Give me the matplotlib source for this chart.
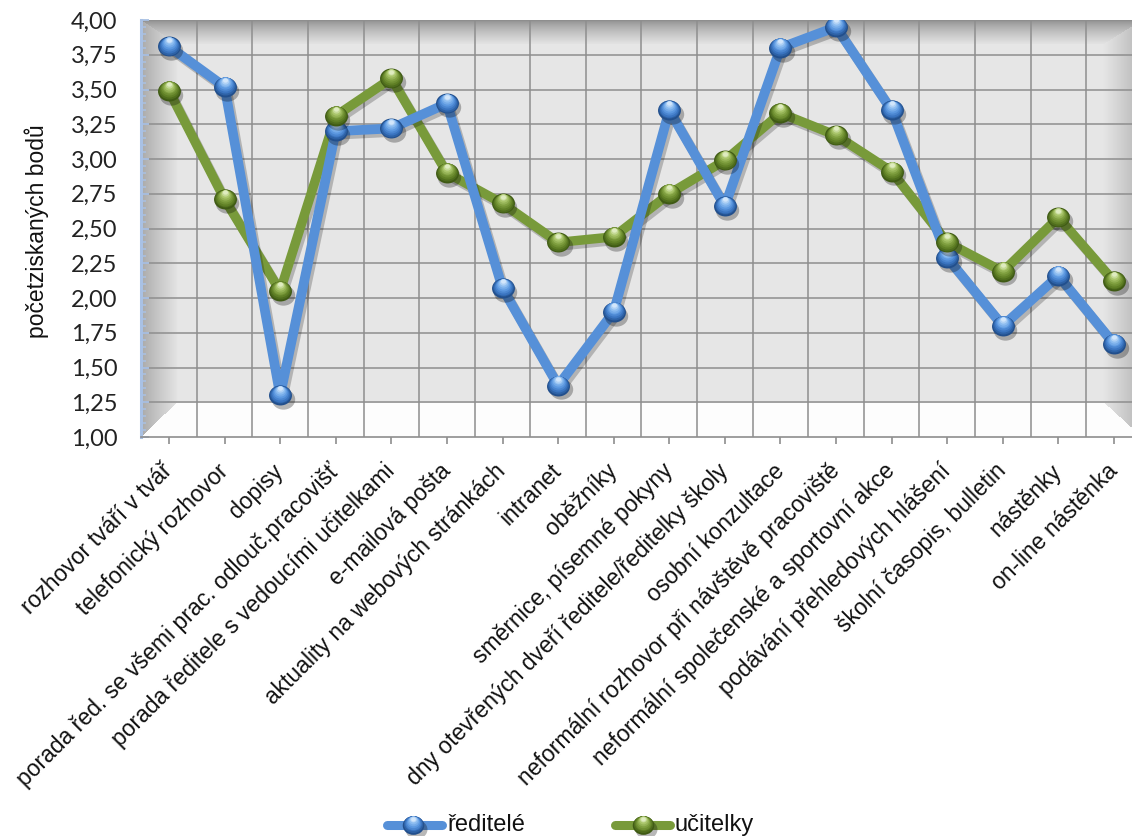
import numpy as np
import matplotlib
matplotlib.use("Agg")
import matplotlib.pyplot as plt
from matplotlib import font_manager
from matplotlib.path import Path
from matplotlib.transforms import Affine2D, offset_copy
from matplotlib.ticker import FuncFormatter, MultipleLocator
import matplotlib.patheffects as pe

categories = [
    "rozhovor tváří v tvář",
    "telefonický rozhovor",
    "dopisy",
    "porada řed. se všemi prac. odlouč.pracovišť",
    "porada ředitele s vedoucími učitelkami",
    "e-mailová pošta",
    "aktuality na webových stránkách",
    "intranet",
    "oběžníky",
    "směrnice, písemné pokyny",
    "dny otevřených dveří ředitele/ředitelky školy",
    "osobní konzultace",
    "neformální rozhovor při návštěvě pracoviště",
    "neformální společenské a sportovní akce",
    "podávání přehledových hlášení",
    "školní časopis, bulletin",
    "nástěnky",
    "on-line nástěnka",
]
reditele = [3.81, 3.52, 1.30, 3.20, 3.22, 3.40, 2.07, 1.37, 1.90, 3.35,
            2.66, 3.80, 3.95, 3.35, 2.29, 1.80, 2.16, 1.67]
ucitelky = [3.49, 2.71, 2.05, 3.31, 3.58, 2.90, 2.68, 2.40, 2.44, 2.75,
            2.99, 3.33, 3.17, 2.91, 2.40, 2.19, 2.58, 2.12]
series_names = ["ředitelé", "učitelky"]
y_label = "početziskaných bodů"

installed = {f.name for f in font_manager.fontManager.ttflist}
NARROW = "Liberation Sans Narrow" if "Liberation Sans Narrow" in installed else "Liberation Sans"
NUMF = "Lato" if "Lato" in installed else "DejaVu Sans"

W_PX, H_PX, DPI = 1132, 836, 100
fig = plt.figure(figsize=(W_PX / DPI, H_PX / DPI), dpi=DPI)

# plot area in pixels
AX_L, AX_R, AX_T, AX_B = 141.2, 1141.8, 20.0, 437.0
ax = fig.add_axes([AX_L / W_PX, 1 - AX_B / H_PX, (AX_R - AX_L) / W_PX, (AX_B - AX_T) / H_PX])
n = len(categories)
x = np.arange(n)
ax.set_xlim(-0.5, n - 0.5)
ax.set_ylim(1.0, 4.0)

# bevelled box background: back wall, side walls, ceiling band and floor
Wb, Hb = int(AX_R - AX_L), int(AX_B - AX_T)
u = np.arange(Wb)[None, :] + 0.5
v = np.arange(Hb)[:, None] + 0.5
L, R, T, B = 36.0, 38.0, 24.0, 34.5
dl = np.broadcast_to(u / L, (Hb, Wb))
dr = np.broadcast_to((Wb - u) / R, (Hb, Wb))
dt = np.broadcast_to(v / T, (Hb, Wb))
db = np.broadcast_to((Hb - v) / B, (Hb, Wb))
stack = np.stack([dl, dr, dt, db])
idx = stack.argmin(axis=0)
m = stack.min(axis=0)
g = np.full((Hb, Wb), 0.902)
band = m < 1
c_left = 0.66 + (0.89 - 0.66) * np.clip(dl, 0, 1) ** 0.9
c_right = 0.70 + (0.90 - 0.70) * np.clip(dr, 0, 1) ** 0.9
c_top = 0.54 + (0.89 - 0.54) * np.clip(dt, 0, 1) ** 0.7
c_bot = np.full((Hb, Wb), 0.995)
g = np.where(band & (idx == 0), c_left, g)
g = np.where(band & (idx == 1), c_right, g)
g = np.where(band & (idx == 2), c_top, g)
g = np.where(band & (idx == 3), c_bot, g)
ax.imshow(np.dstack([g, g, g]), extent=[0, 1, 0, 1], transform=ax.transAxes,
          aspect="auto", zorder=0, interpolation="bilinear")

grid_c = "#8e8e8e"
for yv in np.arange(1.25, 4.01, 0.25):
    ax.axhline(yv, color=grid_c, lw=1.1, zorder=1)
ax.vlines(np.arange(0.5, n - 0.5, 1.0), 1.0, 4.0, color=grid_c, lw=1.1, zorder=1)

for s in ["top", "right"]:
    ax.spines[s].set_visible(False)
ax.spines["left"].set_color("#a9c1e4")
ax.spines["left"].set_linewidth(2.2)
ax.spines["bottom"].set_color("#8e8e8e")
ax.spines["bottom"].set_linewidth(1.2)
ax.spines["left"].set_zorder(2)

ax.yaxis.set_major_locator(MultipleLocator(0.25))
ax.yaxis.set_minor_locator(MultipleLocator(0.05))
ax.yaxis.set_major_formatter(FuncFormatter(lambda val, pos: f"{val:.2f}".replace(".", ",")))
ax.tick_params(axis="y", which="major", direction="in", length=6, width=1.3,
               color="#a9c1e4", pad=17, labelsize=17, labelcolor="#222222")
ax.tick_params(axis="y", which="minor", direction="in", length=3.5, width=1.1, color="#a9c1e4")
for t in ax.get_yticklabels():
    t.set_fontfamily(NUMF)

ax.set_xticks(x)
ax.set_xticklabels(categories, rotation=45, ha="right", va="center",
                   rotation_mode="anchor", fontsize=16.5, fontfamily=NARROW, color="#111111")
ax.tick_params(axis="x", direction="out", length=5, width=1.2, color="#8e8e8e", pad=17)

fig.text(37 / W_PX, 1 - 231 / H_PX, y_label, rotation=90, ha="center", va="center",
         fontsize=16.5, fontfamily="Liberation Sans", color="#111111")

# ellipse marker (slightly wider than tall)
ell = Path.unit_circle().transformed(Affine2D().scale(1.0, 0.87))

palettes = {
    "blue": dict(line="#5690d8", shades=["#224f8c", "#3a74c0", "#5c98e0", "#8cbcf0", "#d2e6fb"]),
    "green": dict(line="#789a3a", shades=["#3f5a14", "#5f7f25", "#7f9f3f", "#a9c56a", "#dfecc0"]),
}


def interp_colors(stops, t):
    stops = [np.array(matplotlib.colors.to_rgb(c)) for c in stops]
    pos = t * (len(stops) - 1)
    i = min(int(pos), len(stops) - 2)
    f = pos - i
    return tuple(stops[i] * (1 - f) + stops[i + 1] * f)


def draw_spheres(axis, xs, ys, shades, size, z):
    shadow_tr = offset_copy(axis.transData, fig=fig, x=1.8, y=-2.8, units="points")
    axis.plot(xs, ys, ls="none", marker=ell, ms=size * 1.02, mfc="black", mec="none",
              alpha=0.28, transform=shadow_tr, zorder=z)
    steps = 9
    for k in range(steps):
        t = k / (steps - 1)
        scale = 1.0 - 0.78 * t
        tr = offset_copy(axis.transData, fig=fig, x=0.0, y=t * size * 0.30, units="points")
        axis.plot(xs, ys, ls="none", marker=ell, ms=size * scale,
                  mfc=interp_colors(shades, t), mec="none", transform=tr,
                  zorder=z + 0.01 * (k + 1))


MS = 16.5
shadow = [pe.SimpleLineShadow(offset=(1.8, -2.5), shadow_color="black", alpha=0.22), pe.Normal()]
ax.plot(x, ucitelky, color=palettes["green"]["line"], lw=6.8, solid_joinstyle="round",
        zorder=3, path_effects=shadow)
ax.plot(x, reditele, color=palettes["blue"]["line"], lw=7.0, solid_joinstyle="round",
        zorder=4, path_effects=shadow)
draw_spheres(ax, x, reditele, palettes["blue"]["shades"], MS, 5)
draw_spheres(ax, x, ucitelky, palettes["green"]["shades"], MS, 6)

# legend strip along the bottom, in pixel coordinates
lax = fig.add_axes([0, 0, 1, 40 / H_PX])
lax.set_xlim(0, W_PX)
lax.set_ylim(H_PX, H_PX - 40)
lax.axis("off")
ly = 825
entries = [(387, 442, 413, 447, series_names[0], "blue"),
           (615, 670, 643, 675, series_names[1], "green")]
for x0, x1, xm, xt, name, key in entries:
    lax.plot([x0, x1], [ly, ly], color=palettes[key]["line"], lw=6.5,
             solid_capstyle="round", zorder=2)
    draw_spheres(lax, [xm], [ly], palettes[key]["shades"], 15.5, 3)
    lax.text(xt, ly, name, ha="left", va="center", fontsize=17,
             fontfamily=NARROW, color="#111111")

fig.savefig("out.png", dpi=DPI)
